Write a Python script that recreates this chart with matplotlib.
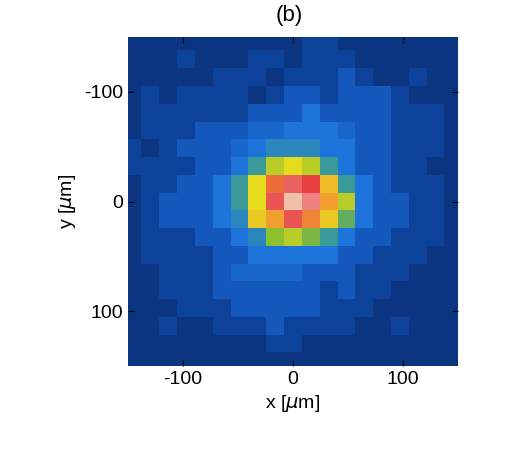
import numpy as np
import matplotlib
matplotlib.use("Agg")
import matplotlib.pyplot as plt
from matplotlib.colors import LinearSegmentedColormap

plt.rcParams['font.family'] = ['Liberation Sans', 'DejaVu Sans']
plt.rcParams['axes.unicode_minus'] = False

intensity = [
[0,0,0,0,0,0,0,0,0,0,1,1,0,0,0,0,0,0,0],
[0,0,0,1,0,0,0,1,1,0,1,1,1,0,0,0,0,0,0],
[0,0,0,0,0,1,1,1,0,1,1,1,2,1,0,0,1,0,0],
[0,1,0,1,1,1,1,0,1,2,2,1,2,2,2,1,0,0,0],
[0,1,1,1,1,1,1,2,2,2,3,2,2,2,2,1,1,1,0],
[0,1,1,1,2,2,2,2.5,2.5,3,3,3,2.5,2,2,1,1,1,0],
[1,0,1,2,2,2,2.5,3,3.5,3.5,3.5,3,3,2,2,1,1,1,0],
[1,1,1,1,2,2,3,4,5.5,6,5.5,4,3,2,2,1,1,0,0],
[0,1,1,2,2,3,4,6,7.5,8.5,8,6.5,4,3,2,1,1,1,0],
[0,1,2,2,2,3,4,6,8.3,10,9,7,5.5,3,2,2,1,1,0],
[0,1,2,2,2,3,3.5,6.3,7,8.3,7.3,6.3,4.5,3,2,2,1,1,0],
[0,1,1,1,2,2,3,3.5,5,5.5,4.8,4,3,2,2,1,1,1,0],
[0,1,1,1,1,2,2,3,3,3,3,3,2,2,1,1,1,0,0],
[0,0,1,1,1,2,2.5,2.5,2.5,2.5,2,2,2,1,1,1,0,0,0],
[0,0,1,1,1,2,2,2,2,2,2,1,2,1,1,0,0,0,0],
[0,0,0,1,1,1,2,2,2,2,2,1,1,1,0,0,0,0,0],
[0,0,1,0,0,1,1,1,2,1,1,1,1,0,0,1,0,0,0],
[0,0,0,0,0,0,0,0,1,1,0,0,0,0,0,0,0,0,0],
[0,0,0,0,0,0,0,0,0,0,0,0,0,0,0,0,0,0,0],
]
pitch_um = 16.2
x_ticks = [-100, 0, 100]
y_ticks = [-100, 0, 100]

cmap = LinearSegmentedColormap.from_list("c", [
 "#0b3580", "#0d439a", "#1558bb", "#1e76dc", "#3a9a9a", "#8cc030",
 "#e8dc20", "#f4a030", "#e84040", "#ee8080", "#f0c0a8"])

Z = np.array(intensity)
n = Z.shape[0]
half = n * pitch_um / 2
fig = plt.figure(figsize=(5.22, 4.76), dpi=100)
ax = fig.add_axes([0.245, 0.231, 0.632, 0.691])
ax.imshow(Z, cmap=cmap, vmin=0, vmax=10, extent=[-half, half, half, -half],
          interpolation="nearest", aspect="auto")
ax.set_xlim(-150, 150)
ax.set_ylim(150, -150)
ax.set_xticks(x_ticks); ax.set_yticks(y_ticks)
ax.tick_params(direction="in", top=True, right=True, labelsize=14, length=4, color="black")
ax.set_xlabel(r"x [$\mu$m]", fontsize=14)
ax.set_ylabel(r"y [$\mu$m]", fontsize=14)
for s in ax.spines.values():
    s.set_visible(False)
fig.text(0.555, 0.945, "(b)", ha="center", va="bottom", fontsize=16)
fig.savefig("out.png", dpi=100)
